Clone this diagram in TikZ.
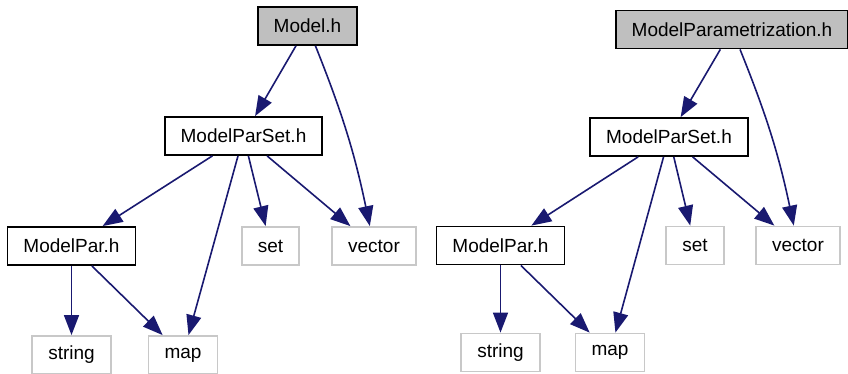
\documentclass[tikz,border=0pt]{standalone}
\usepackage{fontspec}
\setmainfont{Liberation Sans}
\usepackage{xcolor}
\usetikzlibrary{arrows.meta}
\definecolor{cedge}{HTML}{191970}
\definecolor{chead}{HTML}{BFBFBF}
\definecolor{csys}{HTML}{C8C8C8}

\begin{document}
\begin{tikzpicture}[
    x=0.5pt, y=-0.5pt,
    font=\fontsize{9.5}{11}\selectfont,
    head/.style={
        rectangle, draw=black, line width=0.9pt, fill=chead,
        inner xsep=8pt, inner ysep=0pt, minimum height=19pt
    },
    file/.style={
        rectangle, draw=black, line width=0.9pt, fill=white,
        inner xsep=8pt, inner ysep=0pt, minimum height=19pt
    },
    sys/.style={
        rectangle, draw=csys, line width=0.9pt, fill=white,
        inner xsep=8pt, inner ysep=0pt, minimum height=19pt
    },
    edge/.style={-{Triangle[length=10pt,width=7.5pt]}, draw=cedge, line width=0.8pt}
]
\useasboundingbox (0,0) rectangle (848,374);

% Model.h
\node[head] (lmodel)  at (307.5,26)  {Model.h};
\node[file] (lparset) at (243.5,136) {ModelParSet.h};
\node[file] (lpar)    at (71.5,246)  {ModelPar.h};
\node[sys]  (lset)    at (270.5,246) {set};
\node[sys]  (lvector) at (374,246)   {vector};
\node[sys]  (lstring) at (71.5,355)  {string};
\node[sys]  (lmap)    at (183,355)   {map};

% ModelParametrization.h
\node[head] (rmodpar) at (732,29.5)  {ModelParametrization.h};
\node[file] (rparset) at (669,137)   {ModelParSet.h};
\node[file] (rpar)    at (500.5,245.5) {ModelPar.h};
\node[sys]  (rset)    at (695,245.5) {set};
\node[sys]  (rvector) at (798,245.5) {vector};
\node[sys]  (rstring) at (500.5,352.5) {string};
\node[sys]  (rmap)    at (610,352.5) {map};

\foreach \a/\b in {lmodel/lparset, lparset/lpar, lparset/lmap, lparset/lset,
                   lparset/lvector, lpar/lstring, lpar/lmap,
                   rmodpar/rparset, rparset/rpar, rparset/rmap, rparset/rset,
                   rparset/rvector, rpar/rstring, rpar/rmap}
  \draw[edge] (\a) -- (\b);

\draw[edge] (lmodel) to[bend left=5] (lvector);
\draw[edge] (rmodpar) to[bend left=5] (rvector);
\end{tikzpicture}
\end{document}
